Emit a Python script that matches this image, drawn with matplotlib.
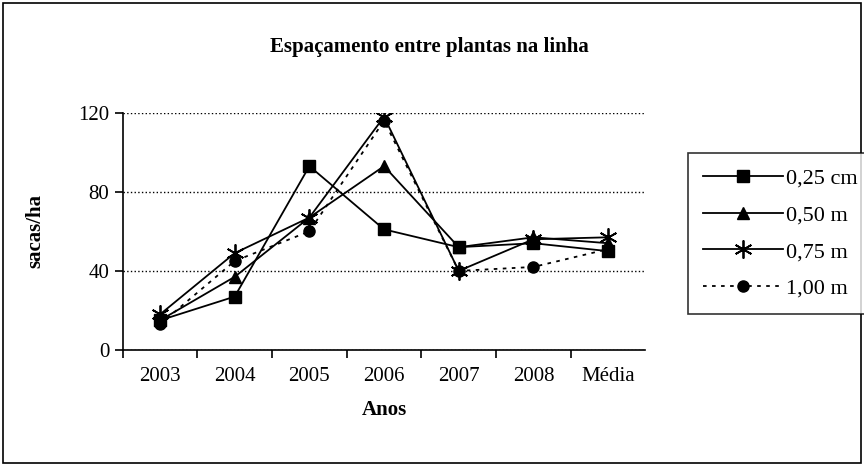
import matplotlib.pyplot as plt
from matplotlib.patches import Rectangle

anos = ["2003", "2004", "2005", "2006", "2007", "2008", "Média"]
esp_025 = [15, 27, 93, 61, 52, 54, 50]
esp_050 = [15, 37, 67, 93, 52, 57, 54]
esp_075 = [18, 49, 67, 118, 40, 56, 57]
esp_100 = [13, 45, 60, 116, 40, 42, 51]

plt.rcParams['font.family'] = ['Liberation Serif', 'DejaVu Serif']

fig = plt.figure(figsize=(8.64, 4.66), dpi=100)
fig.patches.append(Rectangle((0.004, 0.006), 0.992, 0.988, transform=fig.transFigure,
                             fill=False, edgecolor='black', linewidth=1.2))

ax = fig.add_axes([0.142, 0.249, 0.605, 0.509])
x = range(len(anos))

ax.plot(x, esp_025, color='black', lw=1.3, marker='s', ms=8, label='0,25 cm')
ax.plot(x, esp_050, color='black', lw=1.3, marker='^', ms=8, label='0,50 m')
ax.plot(x, esp_075, color='black', lw=1.3, marker=(6, 2, 0), ms=13, mew=1.3, label='0,75 m')
ax.plot(x, esp_100, color='black', lw=1.3, ls=(0, (2, 3)), marker='o', ms=8, label='1,00 m')

ax.set_xlim(-0.5, len(anos) - 0.5)
ax.set_ylim(0, 120)
ax.set_yticks([0, 40, 80, 120])
ax.set_xticks(x)
ax.set_xticklabels(anos)
ax.set_xticks([i - 0.5 for i in range(len(anos))], minor=True)
ax.tick_params(axis='x', which='major', length=0, pad=12, labelsize=15)
ax.tick_params(axis='x', which='minor', length=6, width=1.2, direction='out')
ax.tick_params(axis='y', length=6, width=1.2, direction='out', labelsize=15)
ax.yaxis.grid(True, color='black', ls=':', lw=1)
ax.set_axisbelow(True)
for s in ['top', 'right']:
    ax.spines[s].set_visible(False)
for s in ['left', 'bottom']:
    ax.spines[s].set_linewidth(1.2)

ax.set_ylabel('sacas/ha', fontsize=15, fontweight='bold', labelpad=24)
ax.set_xlabel('Anos', fontsize=15, fontweight='bold', labelpad=10)
fig.text(0.497, 0.899, 'Espaçamento entre plantas na linha', fontsize=15,
         fontweight='bold', ha='center', va='center')

leg = fig.legend(loc='upper left', bbox_to_anchor=(0.796, 0.672), fontsize=16,
                 frameon=True, fancybox=False, edgecolor='black', handlelength=3.6,
                 handletextpad=0.1, borderpad=0.7, labelspacing=0.72,
                 borderaxespad=0)
leg.get_frame().set_linewidth(1.2)

plt.savefig('out.png', dpi=100)
